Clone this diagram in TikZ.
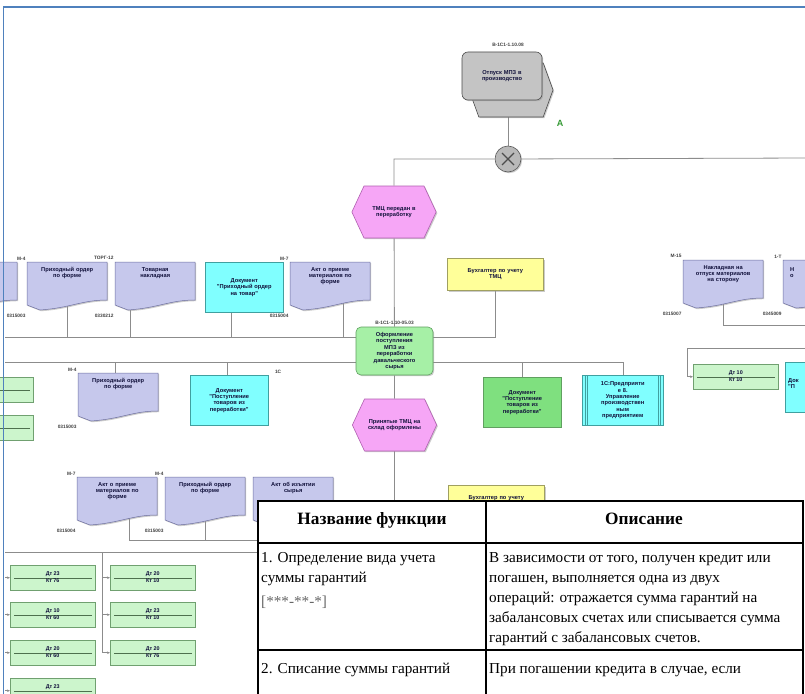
\documentclass[tikz,border=0pt]{standalone}
\usepackage{fontspec}
\setmainfont{Liberation Serif}
\newfontfamily\dsans{Liberation Sans}
\usetikzlibrary{shapes.symbols,shapes.geometric,calc,arrows.meta,shadows}
\pgfdeclarelayer{bottom}
\pgfdeclarelayer{background}
\pgfsetlayers{bottom,background,main}
\definecolor{docfill}{HTML}{C6C8EC}
\definecolor{docdraw}{HTML}{6E70A0}
\definecolor{cyanfill}{HTML}{80FFFF}
\definecolor{cyandraw}{HTML}{40A0A0}
\definecolor{funcfill}{HTML}{A6F0A6}
\definecolor{funcdraw}{HTML}{60A060}
\definecolor{gdocfill}{HTML}{7FE07F}
\definecolor{evfill}{HTML}{F6A6F6}
\definecolor{evdraw}{HTML}{B060B0}
\definecolor{yelfill}{HTML}{FFFF99}
\definecolor{yeldraw}{HTML}{A0A060}
\definecolor{dkfill}{HTML}{CCF5CC}
\definecolor{dkdraw}{HTML}{70A070}
\definecolor{graypi}{HTML}{C4C4C4}
\definecolor{frameblue}{HTML}{4F81BD}
\definecolor{txtnavy}{HTML}{10103A}
\definecolor{connc}{HTML}{8C8C8C}
\definecolor{agreen}{HTML}{339933}
\tikzset{
 conn/.style={draw=connc, line width=0.8pt},
 arr/.style={draw=connc, line width=0.8pt, -{Stealth[length=3pt,width=2.5pt]}},
 shad/.style={drop shadow={shadow xshift=1.2pt,shadow yshift=-1.2pt,fill=black!40,opacity=0.5}},
 dfont/.style={font=\dsans\bfseries\fontsize{5.7}{6.4}\selectfont, text=txtnavy},
 lbl/.style={font=\dsans\bfseries\fontsize{4.8}{5.4}\selectfont, text=black!75, inner sep=0.3pt},
 dtext/.style={dfont, align=center, text width=#1, inner sep=0pt},
 dtext/.default=72pt,
 docpath/.style={fill=docfill, draw=docdraw, line width=0.5pt, shad},
 shapebox/.style={draw=none, fill=none, minimum width=80pt, minimum height=44pt, inner sep=0, anchor=north west},
 rectdoc/.style={draw=#1, line width=0.5pt, shad, minimum width=78pt, minimum height=50pt, inner sep=2pt, anchor=north west, dfont, align=center, text width=72pt},
 func/.style={rounded corners=5pt, fill=funcfill, draw=funcdraw, line width=0.6pt, shad, minimum width=77pt, minimum height=48pt, inner sep=1pt, dfont, align=center, text width=72pt},
 event/.style={shape=signal, signal to=west and east, signal pointer angle=130, fill=evfill, draw=evdraw, line width=0.6pt, shad, minimum width=78pt, minimum height=52pt, inner sep=1pt, dfont, align=center, text width=58pt},
 yel/.style={fill=yelfill, draw=yeldraw, line width=0.6pt, shad, minimum width=96pt, minimum height=32pt, inner sep=1pt, dfont, align=center, text width=80pt, anchor=north west},
 dkbox/.style={fill=dkfill, draw=dkdraw, line width=0.5pt, shad, minimum width=85pt, minimum height=25pt, inner sep=0, anchor=north west},
 dkline/.style={draw=dkdraw!70!black, line width=0.5pt},
 dktext/.style={font=\dsans\bfseries\fontsize{5.4}{6}\selectfont, text=txtnavy, inner sep=0.6pt},
 tbl/.style={font=\fontsize{15.2}{20}\selectfont, inner sep=0, anchor=base west},
 tblh/.style={font=\bfseries\fontsize{17.3}{20}\selectfont, inner sep=0, anchor=base},
 tline/.style={line width=1.5pt, draw=black},
}
\newcommand\wavedoc[6]{%
 \path[docpath] (#2,#3) -- ++(80,0) -- ++(0,38) .. controls +(-25,0) and +(30,-2) .. ++(-67,10) -- ++(-13,-5) -- cycle;
 \node[shapebox] (#1) at (#2,#3) {};
 \node[dtext, anchor=north] at ([yshift=-5pt]#1.north) {#4};
 \node[lbl, anchor=south east] at (#2-1,#3-1.5) {#5};
 \node[lbl, anchor=north east] at (#2-1,#3+52) {#6};
}
\newcommand\dk[5]{%
 \node[dkbox] (#1) at (#2,#3) {};
 \draw[dkline] ([xshift=4pt]#1.west) -- ([xshift=-4pt]#1.east);
 \node[dktext, anchor=south] at ([yshift=0.3pt]#1.center) {#4};
 \node[dktext, anchor=north] at ([yshift=-0.3pt]#1.center) {#5};
}
\begin{document}
\begin{tikzpicture}[x=1pt,y=-1pt]
\useasboundingbox (0,0) rectangle (805,693);
\begin{pgfonlayer}{bottom}
\fill[white] (0,0) rectangle (805,693);
\end{pgfonlayer}

% ---- top: process interface, xor
\node[shape=signal, signal to=west and east, signal pointer angle=140, fill=graypi, draw=gray!60!black, line width=0.6pt, shad, minimum width=84pt, minimum height=54pt, inner sep=0] (PIb) at (511,90) {};
\node[rounded corners=6pt, fill=graypi, draw=gray!60!black, line width=0.6pt, shad, minimum width=80pt, minimum height=48pt, inner sep=1pt, dfont, align=center, text width=66pt] (PI) at (502,76) {Отпуск МПЗ в\\производство};
\node[lbl] (PIlab) at (508,45) {В-1С1-1.10.08};
\node[font=\dsans\bfseries\fontsize{9}{9}\selectfont, text=agreen, inner sep=0] (Amark) at (560,123) {A};
\node[circle, fill=gray!55, draw=gray!70!black, line width=0.6pt, minimum size=26pt, inner sep=0, shad] (X) at (508,159) {};
\draw[black!70, line width=1.1pt] ($(X)+(-6,-6)$) -- ($(X)+(6,6)$) ($(X)+(-6,6)$) -- ($(X)+(6,-6)$);
\coordinate (b0r) at (808,158);

% ---- central chain
\node[event] (E1) at (394,212) {ТМЦ передан в\\переработку};
\node[func] (F) at (394.5,351) {Оформление\\поступления\\МПЗ из\\переработки\\давальческого\\сырья};
\node[lbl, anchor=south] (Flab) at ([yshift=1.5pt]F.north) {В-1С1-1.10-05.03};
\node[event, minimum width=76pt] (E2) at (394.5,425) {Принятые ТМЦ на\\склад оформлены};

% ---- top documents row
\wavedoc{d1}{-63}{262}{}{}{}
\wavedoc{d2}{27}{262}{Приходный ордер\\по форме}{М-4}{0315003}
\wavedoc{d3}{115}{262}{Товарная\\накладная}{ТОРГ-12}{0330212}
\node[rectdoc=cyandraw, fill=cyanfill] (d4) at (205,262) {Документ\\"Приходный ордер\\на товар"};
\wavedoc{d5}{290}{262}{Акт о приеме\\материалов по\\форме}{М-7}{0315004}
\node[yel] (Y1) at (447,258) {Бухгалтер по учету\\ТМЦ};

% ---- middle row
\dk{g1}{-52}{377}{}{}
\dk{g2}{-52}{415}{}{}
\wavedoc{d6}{78}{373}{Приходный ордер\\по форме}{М-4}{0315003}
\node[rectdoc=cyandraw, fill=cyanfill] (d7) at (190,375) {Документ\\"Поступление\\товаров из\\переработки"};
\node[lbl, anchor=south west] (d7lab) at ([xshift=6pt,yshift=0.5pt]d7.north east) {1С};
\node[rectdoc=funcdraw, fill=gdocfill] (GD) at (483,377) {Документ\\"Поступление\\товаров из\\переработки"};
\node[rectdoc=cyandraw, fill=cyanfill, minimum width=81pt, text width=64pt] (App) at (582,375) {1С:Предприяти\\е 8.\\Управление\\производствен\\ным\\предприятием};
\draw[cyandraw, line width=0.4pt] ([xshift=3pt]App.north west) -- ([xshift=3pt]App.south west) ([xshift=5.5pt]App.north west) -- ([xshift=5.5pt]App.south west) ([xshift=-3pt]App.north east) -- ([xshift=-3pt]App.south east) ([xshift=-5.5pt]App.north east) -- ([xshift=-5.5pt]App.south east);

% ---- right side
\wavedoc{d8}{683}{260}{Накладная на\\отпуск материалов\\на сторону}{М-15}{0315007}
\path[docpath] (783,260) -- ++(80,0) -- ++(0,38) .. controls +(-25,0) and +(30,-2) .. ++(-67,10) -- ++(-13,-5) -- cycle;
\node[shapebox] (d9) at (783,260) {};
\node[dfont, align=left, anchor=north west, inner sep=0] (d9t) at (790,267) {Н\\о};
\node[lbl, anchor=south east] (d9a) at (782,258.5) {1-Т};
\node[lbl, anchor=north east] (d9b) at (782,312) {0345009};
\dk{DK}{693}{364}{Дт 10}{Кт 10}
\node[draw=cyandraw, line width=0.5pt, shad, fill=cyanfill, minimum width=40pt, minimum height=50pt, anchor=north west] (d13) at (785,362) {};
\node[dfont, align=left, anchor=north west, inner sep=0] (d13t) at (788,378) {Док\\"П};

% ---- lower left
\wavedoc{d10}{77}{477}{Акт о приеме\\материалов по\\форме}{М-7}{0315004}
\wavedoc{d11}{165}{477}{Приходный ордер\\по форме}{М-4}{0315003}
\wavedoc{d12}{253}{477}{Акт об изъятии\\сырья}{}{}
\node[yel] (Y2) at (448,485) {Бухгалтер по учету\\ТМЦ};
\dk{l1}{10}{565}{Дт 23}{Кт 76}
\dk{l2}{10}{602}{Дт 10}{Кт 60}
\dk{l3}{10}{640}{Дт 20}{Кт 60}
\node[dkbox] (l4) at (10,678) {};
\draw[dkline] ([xshift=4pt]l4.west) -- ([xshift=-4pt]l4.east);
\node[dktext, anchor=south] (l4t) at ([yshift=0.3pt]l4.center) {Дт 23};
\dk{r1}{110}{565}{Дт 20}{Кт 10}
\dk{r2}{110}{602}{Дт 23}{Кт 10}
\dk{r3}{110}{640}{Дт 20}{Кт 76}

% ---- connectors
\begin{pgfonlayer}{background}
 \draw[conn] (PIb.south -| X) -- (X);
 \draw[conn] (X) -- (b0r);
 \draw[conn] (X) -- (X -| E1) -- (E1);
 \draw[conn] (E1) -- (F);
 \draw[conn] (F) -- (E2);
 \coordinate (tt) at (394.5,505);
 \draw[conn] (E2) -- (tt);
 \coordinate (bA) at (5,337);
 \draw[conn] (bA) -- (bA -| F);
 \draw[conn] (d2.center) -- (d2.center |- bA);
 \draw[conn] ([xshift=-25pt]d3.center) -- ([xshift=-25pt]d3.center |- bA);
 \draw[conn] ([xshift=-13pt]d4.center) -- ([xshift=-13pt]d4.center |- bA);
 \draw[conn] ([xshift=13pt]d5.center) -- ([xshift=13pt]d5.center |- bA);
 \draw[conn] (Y1) -- (Y1 |- bA) -- (bA -| F);
 \coordinate (bB) at (5,362);
 \coordinate (bBr) at (623,362);
 \draw[conn] (bB) -- (bBr) -- (bBr |- App.north);
 \draw[conn] ([xshift=-3pt]d6.center) -- ([xshift=-3pt]d6.center |- bB);
 \draw[conn] ([xshift=-2pt]d7.center) -- ([xshift=-2pt]d7.center |- bB);
 \draw[conn] (GD) -- (GD |- bB);
 \coordinate (bC) at (808,325);
 \draw[conn] (d8.center) -- (d8.center |- bC) -- (bC);
 \coordinate (bD) at (808,348);
 \coordinate (bDl) at (687,348);
 \draw[conn] (bD) -- (bDl) -- (bDl |- DK);
 \draw[arr] (bDl |- DK) -- (DK.west);
 \coordinate (bE) at (262,540);
 \draw[conn] ([xshift=12pt]d10.center) |- (bE);
 \draw[conn] (d11.center) -- (d11.center |- bE);
 \coordinate (bF) at (5,552);
 \coordinate (bFr) at (262,552);
 \draw[conn] (bF) -- (bFr);
 \coordinate (vG) at (102,552);
 \draw[conn] (vG) -- (vG |- r3);
 \draw[arr] (vG |- r1) -- (r1.west);
 \draw[arr] (vG |- r2) -- (r2.west);
 \draw[arr] (vG |- r3) -- (r3.west);
 \draw[arr] (l1.west -| bF) -- (l1.west);
 \draw[arr] (l2.west -| bF) -- (l2.west);
 \draw[arr] (l3.west -| bF) -- (l3.west);
 \draw[arr] (l4.west -| bF) -- (l4.west);
\end{pgfonlayer}

% ---- table
\draw[tline, fill=white] (258,501) rectangle (803,720);
\draw[tline] (258,543) -- (803,543) (258,650) -- (803,650) (486,501) -- (486,720);
\node[tblh] (h1) at (372,524) {Название функции};
\node[tblh] (h2) at (644,524) {Описание};
\node[tbl] (a1) at (261,562) {1. Определение вида учета};
\node[tbl] (a2) at (261,582) {суммы гарантий};
\node[tbl, text=black!60] (a3) at (261,606) {[***-**-*]};
\node[tbl] (b1) at (489,562) {В зависимости от того, получен кредит или};
\node[tbl] (b2) at (489,582) {погашен, выполняется одна из двух};
\node[tbl] (b3) at (489,602) {операций: отражается сумма гарантий на};
\node[tbl] (b4) at (489,622) {забалансовых счетах или списывается сумма};
\node[tbl] (b5) at (489,642) {гарантий с забалансовых счетов.};
\node[tbl] (c1) at (261,673) {2. Списание суммы гарантий};
\node[tbl] (c2) at (489,673) {При погашении кредита в случае, если};

% ---- frame
\draw[frameblue, line width=1.6pt] (3.5,700) -- (3.5,7) -- (810,7);
\end{tikzpicture}
\end{document}
